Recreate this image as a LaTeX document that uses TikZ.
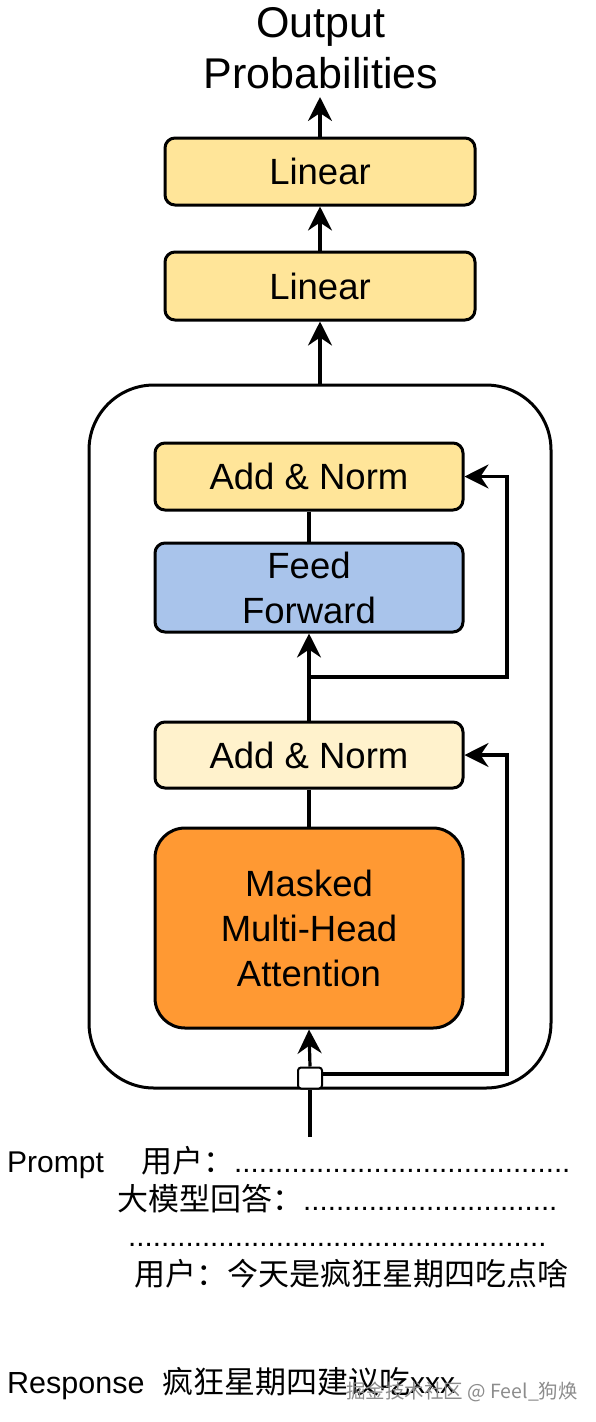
\documentclass[tikz,border=0pt]{standalone}
\usepackage{fontspec}
\setmainfont{Liberation Sans}
\newfontfamily\cjk{Noto Sans CJK SC}
\usetikzlibrary{arrows.meta,calc}
\definecolor{linfill}{HTML}{FFE599}
\definecolor{anfill}{HTML}{FFF2CC}
\definecolor{fffill}{HTML}{A9C4EB}
\definecolor{mhfill}{HTML}{FF9933}
\newcommand\cjt[1]{{\cjk\fontsize{31}{37}\selectfont #1}}
\begin{document}
\begin{tikzpicture}[x=1pt,y=-1pt,
  box/.style={draw, line width=3pt, rounded corners=10pt, align=center, inner sep=0pt,
    font=\fontsize{36.5}{45}\selectfont},
  con/.style={line width=3.2pt},
  arr/.style={line width=3.2pt, -{Stealth[length=24pt,width=24pt,inset=8pt]}},
  lbl/.style={anchor=base west, inner sep=0pt, font=\fontsize{29.5}{35}\selectfont}
]
\useasboundingbox (0,0) rectangle (596,1422);

% outer block
\node[draw, line width=3pt, rounded corners=65pt, minimum width=462pt, minimum height=703pt] (blk) at (320,736.5) {};

% top
\node[align=center, inner sep=0pt, font=\fontsize{43}{51}\selectfont] (out) at (321,48) {Output\\Probabilities};
\node[box, fill=linfill, minimum width=310pt, minimum height=67pt] (lin1) at (320,171.5) {Linear};
\node[box, fill=linfill, minimum width=310pt, minimum height=68pt] (lin2) at (320,286) {Linear};

% inside
\node[box, fill=linfill, minimum width=308pt, minimum height=67pt] (an1) at (309,476.5) {Add \& Norm};
\node[box, fill=fffill, minimum width=308pt, minimum height=89pt] (ff) at (309,587.5) {Feed\\Forward};
\node[box, fill=anfill, minimum width=308pt, minimum height=66pt] (an2) at (309,755) {Add \& Norm};
\node[box, fill=mhfill, rounded corners=30pt, minimum width=308pt, minimum height=200pt] (mh) at (309,928) {Masked\\Multi-Head\\Attention};
\node[draw, line width=2pt, fill=white, rounded corners=3pt, minimum width=24pt, minimum height=21pt, inner sep=0pt] (sq) at (310,1078) {};

% connectors
\coordinate (otip) at (320,97);
\draw[arr] (lin1.north) -- (otip);
\draw[arr] (lin2.north) -- (lin1.south);
\draw[arr] (blk.north) -- (lin2.south);
\draw[con] (an1.south) -- (ff.north);
\draw[arr] (an2.north) -- (ff.south);
\coordinate (br1) at (309,677);
\coordinate (r1) at (507,476.5);
\draw[arr] (br1) -| (r1) -- (an1.east);
\draw[con] (an2.south) -- (mh.north);
\draw[arr] (sq.north) -- (mh.south);
\coordinate (sqo) at (322,1074);
\coordinate (r2) at (507,755);
\draw[arr] (sqo) -| (r2) -- (an2.east);
\coordinate (inp) at (310,1137);
\draw[con] (inp) -- (sq.south);

% prompt text
\node[lbl, font=\fontsize{30}{35}\selectfont] (prompt) at (7,1172) {Prompt};
\node[lbl] (l1) at (141,1172) {\cjt{用户：}.........................................};
\node[lbl] (l2) at (117,1210) {\cjt{大模型回答：}...............................};
\node[lbl] (l3) at (128,1246) {...................................................};
\node[lbl] (l4) at (134,1285) {\cjt{用户：今天是疯狂星期四吃点啥}};

% response
\node[lbl, font=\fontsize{30.5}{35}\selectfont] (resp) at (7,1393) {Response};
\node[lbl] (ans) at (162,1393) {\cjt{疯狂星期四建议吃}{\fontsize{30}{36}\selectfont xxx}};
\node[anchor=base west, inner sep=0pt, text=black!45] (wm) at (346,1398) {\cjk\fontsize{19.5}{23}\selectfont 掘金技术社区 @ Feel\_狗焕};
\end{tikzpicture}
\end{document}
